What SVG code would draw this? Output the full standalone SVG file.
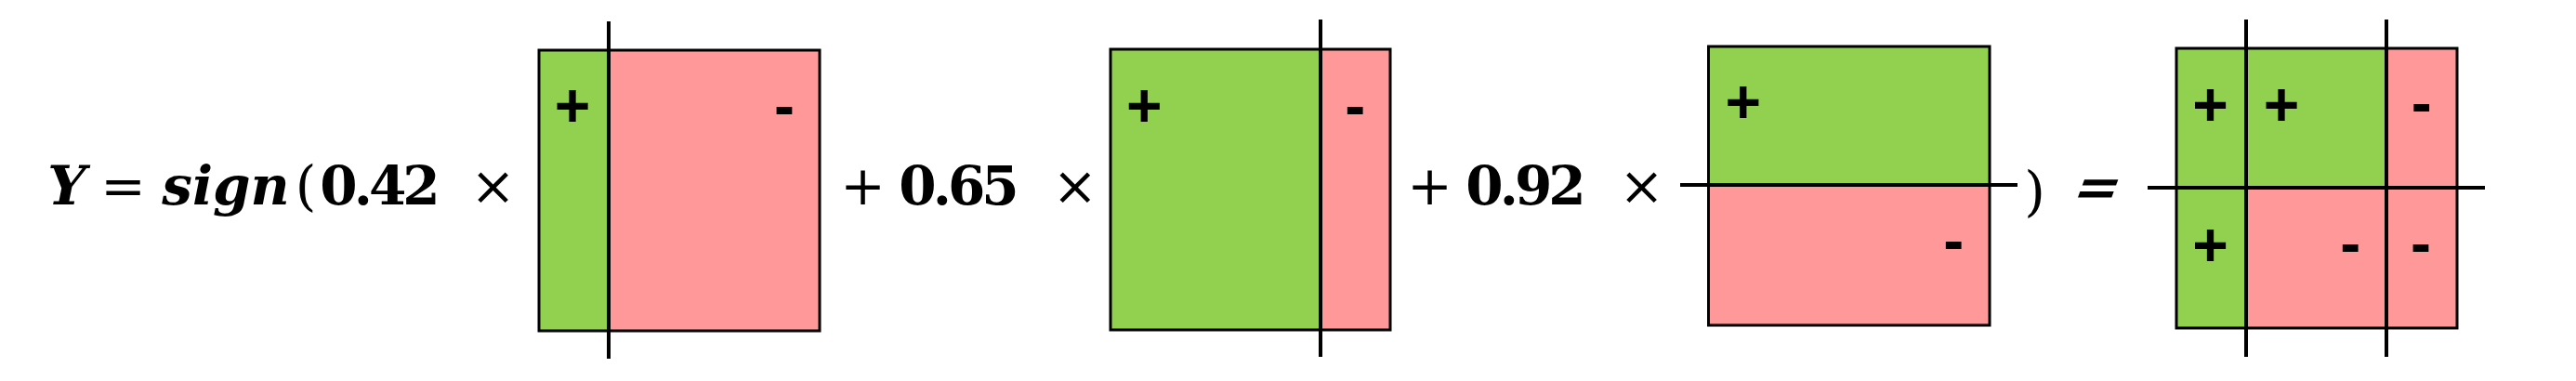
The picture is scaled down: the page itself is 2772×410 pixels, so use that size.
<svg xmlns="http://www.w3.org/2000/svg" width="2772" height="410" viewBox="0 0 2772 410">
<style>
.g{fill:#92D050}
.p{fill:#FF9999}
.o{fill:none;stroke:#000;stroke-width:3}
.d{stroke:#000;stroke-width:4}
.s{font-family:"Liberation Sans",Arial,sans-serif;font-weight:bold;font-size:66px;fill:#000;text-anchor:middle}
.m{font-family:"DejaVu Serif","Liberation Serif",serif;font-size:58px;fill:#000;text-anchor:middle}
.b{font-weight:bold}
.n{font-weight:bold;letter-spacing:-4px}
.bi{font-weight:bold;font-style:italic}
</style>
<rect width="2772" height="410" fill="#fff"/>
<g id="equation">
<text class="m" y="220"><tspan class="bi" x="72">Y</tspan><tspan x="132.5">=</tspan><tspan class="bi" x="243">sign</tspan><tspan x="329">(</tspan><tspan class="n" x="407">0.42</tspan><tspan x="530.5">×</tspan></text>
<text class="m" y="220"><tspan x="928.5">+</tspan><tspan class="n" x="1030">0.65</tspan><tspan x="1156.7">×</tspan></text>
<text class="m" y="220"><tspan x="1538.5">+</tspan><tspan class="n" x="1640">0.92</tspan><tspan x="1766.5">×</tspan></text>
<text class="m" x="2189.5" y="226">)</text>
<text class="m b" transform="translate(2251,221) skewX(-20)" x="0" y="0">=</text>
</g>
<g id="box1">
<rect class="g" x="580" y="54" width="75" height="302"/>
<rect class="p" x="655" y="54" width="227" height="302"/>
<rect class="o" x="580" y="54" width="302" height="302"/>
<line class="d" x1="655" y1="23" x2="655" y2="386"/>
<text class="s" x="616" y="136">+</text>
<text class="s" x="844" y="136">-</text>
</g>
<g id="box2">
<rect class="g" x="1195" y="53" width="226" height="302"/>
<rect class="p" x="1421" y="53" width="75" height="302"/>
<rect class="o" x="1195" y="53" width="301" height="302"/>
<line class="d" x1="1421" y1="21" x2="1421" y2="384"/>
<text class="s" x="1231.3" y="136">+</text>
<text class="s" x="1458.3" y="136">-</text>
</g>
<g id="box3">
<rect class="g" x="1838.5" y="50" width="302.5" height="149"/>
<rect class="p" x="1838.5" y="199" width="302.5" height="151"/>
<rect class="o" x="1838.5" y="50" width="302.5" height="300"/>
<line class="d" x1="1808" y1="199" x2="2171" y2="199"/>
<text class="s" x="1875.7" y="131.5">+</text>
<text class="s" x="2102.3" y="281">-</text>
</g>
<g id="box4">
<rect class="g" x="2342" y="52" width="75" height="301"/>
<rect class="g" x="2417" y="52" width="151" height="150"/>
<rect class="p" x="2417" y="202" width="151" height="151"/>
<rect class="p" x="2568" y="52" width="76" height="301"/>
<rect class="o" x="2342" y="52" width="302" height="301"/>
<line class="d" x1="2417" y1="21" x2="2417" y2="384"/>
<line class="d" x1="2568" y1="21" x2="2568" y2="384"/>
<line class="d" x1="2311" y1="202" x2="2674" y2="202"/>
<text class="s" x="2378.5" y="134.5">+</text>
<text class="s" x="2455" y="134.5">+</text>
<text class="s" x="2605.8" y="133">-</text>
<text class="s" x="2378.5" y="285.5">+</text>
<text class="s" x="2529.3" y="284">-</text>
<text class="s" x="2605" y="284">-</text>
</g>
</svg>
